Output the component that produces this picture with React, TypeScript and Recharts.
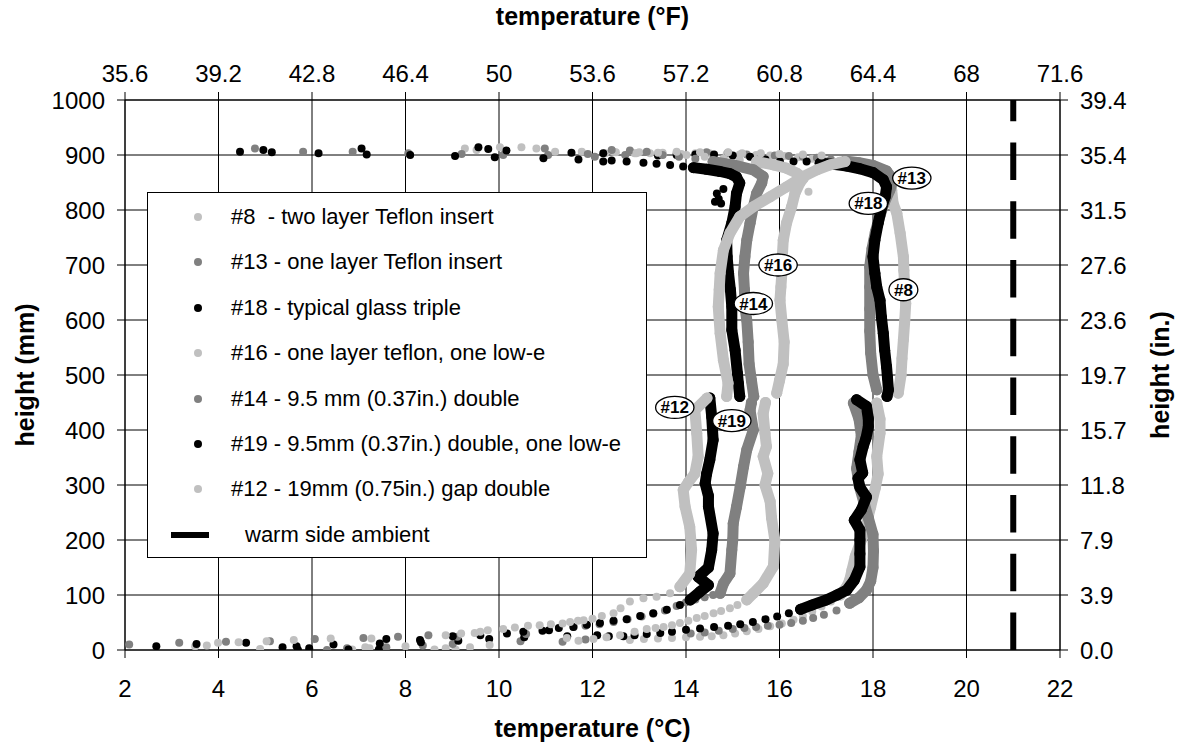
import {
  ScatterChart,
  Scatter,
  XAxis,
  YAxis,
  CartesianGrid,
  ReferenceDot,
} from 'recharts';

type Pt = [number, number]; // [temperature °C, height mm]

const celsiusTicks = [2, 4, 6, 8, 10, 12, 14, 16, 18, 20, 22];
const heightTicks = [0, 100, 200, 300, 400, 500, 600, 700, 800, 900, 1000];
// warm side ambient, drawn floor to head
const ambientLine: Pt[] = [[21, 0], [21, 1000]];

// #8 - two layer Teflon insert
const s8Upper: Pt[] = [[18.54,467],[18.6,500],[18.62,530],[18.65,564],[18.68,600],[18.7,630],[18.68,655],[18.66,690],[18.65,715],[18.58,758],[18.51,794],[18.43,812],[18.4,836],[18.3,855],[18.15,867],[17.86,876],[17.6,882],[17.3,887]];
const s8Lower: Pt[] = [[18.08,449],[18.15,420],[18.15,394],[18.08,352],[18.11,320],[18.05,295],[17.95,260],[17.86,230],[17.75,200],[17.62,170],[17.55,145],[17.5,127],[17.44,115],[17.3,100]];
const s8Dots: Pt[] = [[17.1,88],[16.9,79],[16.7,70],[16.5,62],[16.3,55],[16.05,48],[15.8,43],[15.55,38],[15.3,34],[15.05,30],[14.8,27],[14.55,25],[14.3,24],[14.0,23],[13.7,22],[13.4,21],[13.1,20],[12.8,18],[9.07,1],[8.62,1],[6.86,1],[4.89,2],[3.5,7],[17.0,890],[16.7,893],[16.4,896],[16.1,898],[15.8,899],[15.5,900],[15.15,901],[14.87,902],[14.5,903],[14.2,903],[13.9,902],[13.5,901],[13.23,903],[12.9,903],[12.5,905],[12.27,903],[11.77,906],[11.2,906],[10.8,912],[10.48,914],[10.02,914],[9.52,909],[9.27,912]];

// #13 - one layer Teflon insert
const s13Upper: Pt[] = [[18.08,473],[18.0,500],[17.95,540],[17.93,580],[17.93,620],[17.93,660],[17.93,697],[17.98,730],[18.05,760],[18.15,790],[18.25,815],[18.36,836],[18.43,855],[18.29,871],[18.0,881],[17.7,886],[17.4,889]];
const s13Lower: Pt[] = [[17.58,449],[17.7,420],[17.75,390],[17.7,360],[17.65,330],[17.7,300],[17.8,270],[17.9,240],[18.0,210],[18.01,180],[18.0,150],[17.95,125],[17.86,109],[17.7,95],[17.5,85]];
const s13Dots: Pt[] = [[17.22,72],[16.95,64],[16.72,58],[16.5,53],[16.25,49],[16.0,46],[15.75,44],[15.5,42],[15.25,40],[15.0,38],[14.7,35],[14.4,32],[14.1,30],[11.85,19],[11.36,15],[10.46,16],[9.01,11],[8.37,8],[7.59,5],[6.75,3],[6.32,0],[17.1,892],[16.8,895],[16.5,897],[16.2,898],[15.9,899],[15.6,898],[15.3,901],[14.9,904],[14.44,905],[13.8,903],[12.7,900],[12.05,897],[11.05,900],[10.98,912],[10.09,900],[9.2,902],[8.06,903],[6.87,906],[5.81,906],[4.78,912]];

// #18 - typical glass triple
const s18Upper: Pt[] = [[18.3,461],[18.33,473],[18.31,495],[18.29,515],[18.25,545],[18.22,576],[18.18,605],[18.15,636],[18.08,660],[18.04,685],[18.0,715],[18.04,745],[18.11,776],[18.19,806],[18.26,824],[18.29,842],[18.22,855],[18.0,868],[17.72,875],[17.44,880],[17.15,883],[16.87,885]];
const s18Lower: Pt[] = [[17.65,455],[17.86,443],[17.9,420],[17.9,406],[17.85,385],[17.79,370],[17.72,346],[17.78,322],[17.68,312],[17.72,296],[17.86,278],[17.75,255],[17.6,236],[17.72,218],[17.72,200],[17.72,175],[17.72,151],[17.6,127],[17.44,109],[17.23,100],[17.0,91],[16.7,82],[16.45,74]];
const s18Dots: Pt[] = [[16.2,67],[15.95,61],[15.7,56],[15.43,51],[15.16,47],[14.9,44],[14.6,42],[14.3,39],[14.0,37],[13.7,33],[13.45,31],[13.16,29],[12.9,27],[12.66,25],[12.35,25],[12.1,27],[11.46,25],[10.54,23],[9.79,20],[9.13,17],[8.33,14],[7.45,12],[7.43,1],[6.78,1],[5.94,3],[5.7,0],[5.37,5],[2.67,7],[16.58,888],[16.3,888],[16.01,888],[15.7,892],[15.37,897],[15.0,899],[14.6,901],[14.2,901],[13.8,900],[13.4,899],[12.23,903],[11.55,904],[10.16,908],[9.77,911],[9.56,914],[7.06,912],[4.96,909]];

// #16 - one layer teflon, one low-e
const s16Upper: Pt[] = [[15.94,467],[16.0,490],[16.08,520],[16.1,560],[16.05,600],[16.01,636],[16.03,660],[16.05,685],[16.06,715],[16.08,745],[16.15,776],[16.26,806],[16.33,830],[16.44,850],[16.51,858],[16.37,867],[16.15,876],[15.87,882],[15.51,888]];
const s16Lower: Pt[] = [[15.7,450],[15.65,430],[15.69,394],[15.72,370],[15.65,352],[15.75,321],[15.69,300],[15.8,270],[15.83,240],[15.9,200],[15.87,152],[15.65,121],[15.44,103],[15.3,91]];
const s16Dots: Pt[] = [[15.1,82],[14.94,76],[14.75,71],[14.59,67],[14.4,62],[14.23,58],[14.05,53],[13.87,49],[13.7,45],[13.52,42],[13.35,40],[13.16,38],[12.9,33],[12.59,27],[12.3,23],[12.02,20],[11.7,17],[11.45,22],[9.8,9],[9.38,5],[8.0,7],[7.23,3],[7.14,5],[3.75,8],[16.62,833],[15.15,891],[14.8,893],[14.4,897],[14.01,900],[13.5,904],[13.0,905],[12.45,906]];

// #14 - 9.5 mm (0.37in.) double
const s14Upper: Pt[] = [[15.45,461],[15.4,490],[15.35,520],[15.33,560],[15.3,600],[15.26,624],[15.25,655],[15.23,685],[15.26,715],[15.3,745],[15.37,776],[15.44,806],[15.51,830],[15.62,849],[15.65,861],[15.44,873],[15.01,882],[14.58,888]];
const s14Lower: Pt[] = [[15.4,450],[15.37,436],[15.44,400],[15.3,364],[15.23,333],[15.16,297],[15.08,260],[15.01,230],[15.0,200],[14.98,182],[14.94,139],[14.8,121],[14.73,103]];
const s14Dots: Pt[] = [[14.58,100],[14.4,96],[14.2,92],[14.0,87],[13.8,80],[13.55,72],[13.3,66],[13.05,61],[12.75,56],[12.45,51],[12.15,47],[11.85,44],[11.6,42],[10.58,29],[9.11,24],[8.49,27],[7.84,24],[7.1,22],[6.06,20],[5.1,16],[4.16,15],[3.16,13],[2.09,10],[14.2,893],[13.85,897],[13.5,900],[13.16,906],[12.8,908],[12.41,909],[11.9,902]];

// #19 - 9.5mm (0.37in.) double, one low-e
const s19Upper: Pt[] = [[15.15,461],[15.12,485],[15.1,503],[15.05,545],[14.98,582],[14.98,624],[14.95,655],[14.91,685],[14.88,715],[14.87,745],[14.98,776],[15.05,806],[15.08,830],[15.15,849],[15.08,860],[14.94,866],[14.73,870],[14.44,874],[14.16,877]];
const s19Lower: Pt[] = [[14.51,458],[14.55,424],[14.58,382],[14.51,346],[14.44,320],[14.41,303],[14.48,280],[14.48,261],[14.58,212],[14.55,182],[14.48,150],[14.26,133],[14.48,118],[14.3,106],[14.09,91]];
const s19Dots: Pt[] = [[14.66,830],[14.7,820],[14.75,812],[14.8,838],[14.62,815],[13.87,82],[13.59,73],[13.3,67],[13.02,62],[12.73,56],[12.45,53],[12.16,49],[11.88,46],[11.59,42],[11.28,40],[11.07,36],[10.93,35],[10.52,33],[10.17,30],[9.6,27],[9.01,25],[8.31,18],[7.59,20],[6.46,10],[5.67,7],[4.59,13],[3.53,11],[13.94,879],[13.66,882],[13.37,884],[13.09,886],[12.73,888],[12.41,890],[12.23,888],[11.7,892],[10.95,894],[9.91,896],[9.06,898],[8.1,900],[7.17,901],[6.14,903],[5.14,905],[4.46,906]];

// #12 - 19mm (0.75in.) gap double
const s12Upper: Pt[] = [[14.87,461],[14.9,485],[14.8,527],[14.73,576],[14.69,624],[14.71,655],[14.73,685],[14.8,727],[14.94,758],[15.15,788],[15.44,806],[15.8,824],[16.15,842],[16.51,861],[16.8,873],[17.08,882],[17.4,888]];
const s12Lower: Pt[] = [[14.45,458],[14.19,436],[14.23,394],[14.26,352],[14.19,321],[14.05,305],[13.94,291],[13.98,261],[14.08,224],[14.12,182],[14.08,139],[13.87,115]];
const s12Dots: Pt[] = [[13.66,103],[13.37,97],[13.09,94],[12.8,88],[12.6,76],[12.45,67],[12.2,62],[12.0,57],[11.81,54],[11.69,53],[11.52,51],[11.36,48],[11.11,47],[10.87,45],[10.62,44],[10.34,41],[10.09,38],[9.76,36],[9.6,33],[9.48,31],[9.19,30],[8.86,27],[8.86,3],[7.27,21],[6.4,21],[5.61,18],[5.03,16],[4.43,14],[3.99,13],[16.9,899],[16.5,901],[16.0,902],[15.6,903],[15.2,903],[14.9,905],[14.3,905],[13.8,906],[13.4,904],[12.94,903]];

const seriesNames = [
  '#8  - two layer Teflon insert',
  '#13 - one layer Teflon insert',
  '#18 - typical glass triple',
  '#16 - one layer teflon, one low-e',
  '#14 - 9.5 mm (0.37in.) double',
  '#19 - 9.5mm (0.37in.) double, one low-e',
  '#12 - 19mm (0.75in.) gap double',
];
const seriesColors = ['#c0c0c0', '#808080', '#000000', '#c0c0c0', '#808080', '#000000', '#c0c0c0'];
const seriesUpper = [s8Upper, s13Upper, s18Upper, s16Upper, s14Upper, s19Upper, s12Upper];
const seriesLower = [s8Lower, s13Lower, s18Lower, s16Lower, s14Lower, s19Lower, s12Lower];
const seriesDots = [s8Dots, s13Dots, s18Dots, s16Dots, s14Dots, s19Dots, s12Dots];
const ambientLabel = 'warm side ambient';

// callout bubbles
const calloutNames = ['#13', '#18', '#16', '#8', '#14', '#12', '#19'];
const calloutTemps = [18.83, 17.9, 15.97, 18.65, 15.44, 13.76, 14.98];
const calloutHeights = [858, 812, 700, 655, 630, 441, 417];

const FONT = '"Liberation Sans", Arial, Helvetica, sans-serif';
const tickStyle = { fontSize: 24, fill: '#000', fontFamily: FONT };
const titleStyle = { fontSize: 25, fontWeight: 'bold', fill: '#000', fontFamily: FONT, textAnchor: 'middle' as const };
const traceWidth = 11;

const rows = (pts: Pt[]) => pts.map(([t, h]) => ({ t, h }));
const dot = (color: string, r: number) => (p: any) => <circle cx={p.cx} cy={p.cy} r={r} fill={color} />;
const noDot = () => <g />;

const fahrenheit = (c: number) => String(Number((c * 1.8 + 32).toFixed(1)));
const inches = (mm: number) => (mm / 25.4).toFixed(1);

const bubble = (name: string) => (p: any) => {
  const w = name.length * 0.556 * 17 + 10;
  return (
    <g>
      <ellipse cx={p.cx} cy={p.cy} rx={w / 2} ry={11} fill="#fff" stroke="#000" strokeWidth={1.3} />
      <text x={p.cx} y={p.cy + 6} textAnchor="middle" fontSize={17} fontWeight="bold" fontFamily={FONT} fill="#000">
        {name}
      </text>
    </g>
  );
};

function LegendBox() {
  return (
    <div
      style={{
        position: 'absolute',
        left: 147,
        top: 192,
        width: 500,
        height: 366,
        boxSizing: 'border-box',
        border: '1px solid #000',
        background: '#fff',
        fontFamily: FONT,
        fontSize: 22,
        color: '#000',
      }}
    >
      {seriesNames.map((name, i) => (
        <div key={name} style={{ position: 'absolute', left: 0, top: 24 + i * 45.4 - 13, height: 26, width: 498 }}>
          <span
            style={{
              position: 'absolute',
              left: 46,
              top: 9,
              width: 8,
              height: 8,
              borderRadius: 4,
              background: seriesColors[i],
            }}
          />
          <span style={{ position: 'absolute', left: 83, top: 0, lineHeight: '26px', whiteSpace: 'pre' }}>{name}</span>
        </div>
      ))}
      <div style={{ position: 'absolute', left: 0, top: 24 + 7 * 45.4 - 13, height: 26, width: 498 }}>
        <span style={{ position: 'absolute', left: 23, top: 10, width: 38, height: 6, background: '#000' }} />
        <span style={{ position: 'absolute', left: 97, top: 0, lineHeight: '26px' }}>{ambientLabel}</span>
      </div>
    </div>
  );
}

export default function App() {
  return (
    <div style={{ position: 'absolute', left: 0, top: 0, width: 1178, height: 750, background: '#fff', fontFamily: FONT }}>
      <ScatterChart width={1178} height={750} margin={{ top: 0, right: 0, bottom: 0, left: 0 }}>
        <CartesianGrid xAxisId="c" yAxisId="mm" stroke="#000" strokeWidth={1} />
        <XAxis
          xAxisId="c"
          type="number"
          dataKey="t"
          domain={[2, 22]}
          ticks={celsiusTicks}
          interval={0}
          height={100}
          tickSize={8}
          tickMargin={22}
          tick={tickStyle}
          axisLine={{ stroke: '#000' }}
          tickLine={{ stroke: '#000' }}
          allowDataOverflow
          label={{ value: 'temperature (°C)', position: 'insideBottom', offset: 13, style: titleStyle }}
        />
        <XAxis
          xAxisId="f"
          orientation="top"
          type="number"
          dataKey="t"
          domain={[2, 22]}
          ticks={celsiusTicks}
          interval={0}
          height={100}
          tickSize={8}
          tickMargin={10}
          tick={tickStyle}
          tickFormatter={fahrenheit}
          axisLine={{ stroke: '#000' }}
          tickLine={{ stroke: '#000' }}
          allowDataOverflow
          label={{ value: 'temperature (°F)', position: 'insideTop', offset: 7, style: titleStyle }}
        />
        <YAxis
          yAxisId="mm"
          type="number"
          dataKey="h"
          domain={[0, 1000]}
          ticks={heightTicks}
          interval={0}
          width={125}
          tickSize={8}
          tickMargin={12}
          tick={tickStyle}
          axisLine={{ stroke: '#000' }}
          tickLine={{ stroke: '#000' }}
          allowDataOverflow
          label={{ value: 'height (mm)', angle: -90, position: 'insideLeft', offset: 25, style: titleStyle }}
        />
        <YAxis
          yAxisId="in"
          orientation="right"
          type="number"
          dataKey="h"
          domain={[0, 1000]}
          ticks={heightTicks}
          interval={0}
          width={118}
          tickSize={8}
          tickMargin={12}
          tick={tickStyle}
          tickFormatter={inches}
          axisLine={{ stroke: '#000' }}
          tickLine={{ stroke: '#000' }}
          allowDataOverflow
          label={{ value: 'height (in.)', angle: -90, position: 'insideRight', offset: 18, style: titleStyle }}
        />

        <Scatter
          name={ambientLabel}
          xAxisId="f"
          yAxisId="in"
          data={rows(ambientLine)}
          line={{ stroke: '#000', strokeWidth: 6, strokeDasharray: '37.5 21.25' }}
          lineType="joint"
          shape={noDot}
          isAnimationActive={false}
        />

        {seriesNames.map((name, i) => [
          <Scatter
            key={name + '-lo'}
            name={name}
            xAxisId="c"
            yAxisId="mm"
            data={rows(seriesLower[i])}
            line={{ stroke: seriesColors[i], strokeWidth: traceWidth, strokeLinejoin: 'round', strokeLinecap: 'round' }}
            lineType="joint"
            shape={dot(seriesColors[i], 5.5)}
            isAnimationActive={false}
          />,
          <Scatter
            key={name + '-up'}
            name={name}
            xAxisId="c"
            yAxisId="mm"
            data={rows(seriesUpper[i])}
            line={{ stroke: seriesColors[i], strokeWidth: traceWidth, strokeLinejoin: 'round', strokeLinecap: 'round' }}
            lineType="joint"
            shape={dot(seriesColors[i], 5.5)}
            isAnimationActive={false}
          />,
          <Scatter
            key={name + '-dots'}
            name={name}
            xAxisId="c"
            yAxisId="mm"
            data={rows(seriesDots[i])}
            shape={dot(seriesColors[i], 4)}
            isAnimationActive={false}
          />,
        ])}

        {calloutNames.map((name, i) => (
          <ReferenceDot
            key={name}
            xAxisId="c"
            yAxisId="mm"
            x={calloutTemps[i]}
            y={calloutHeights[i]}
            r={10}
            shape={bubble(name)}
          />
        ))}
      </ScatterChart>
      <LegendBox />
    </div>
  );
}
